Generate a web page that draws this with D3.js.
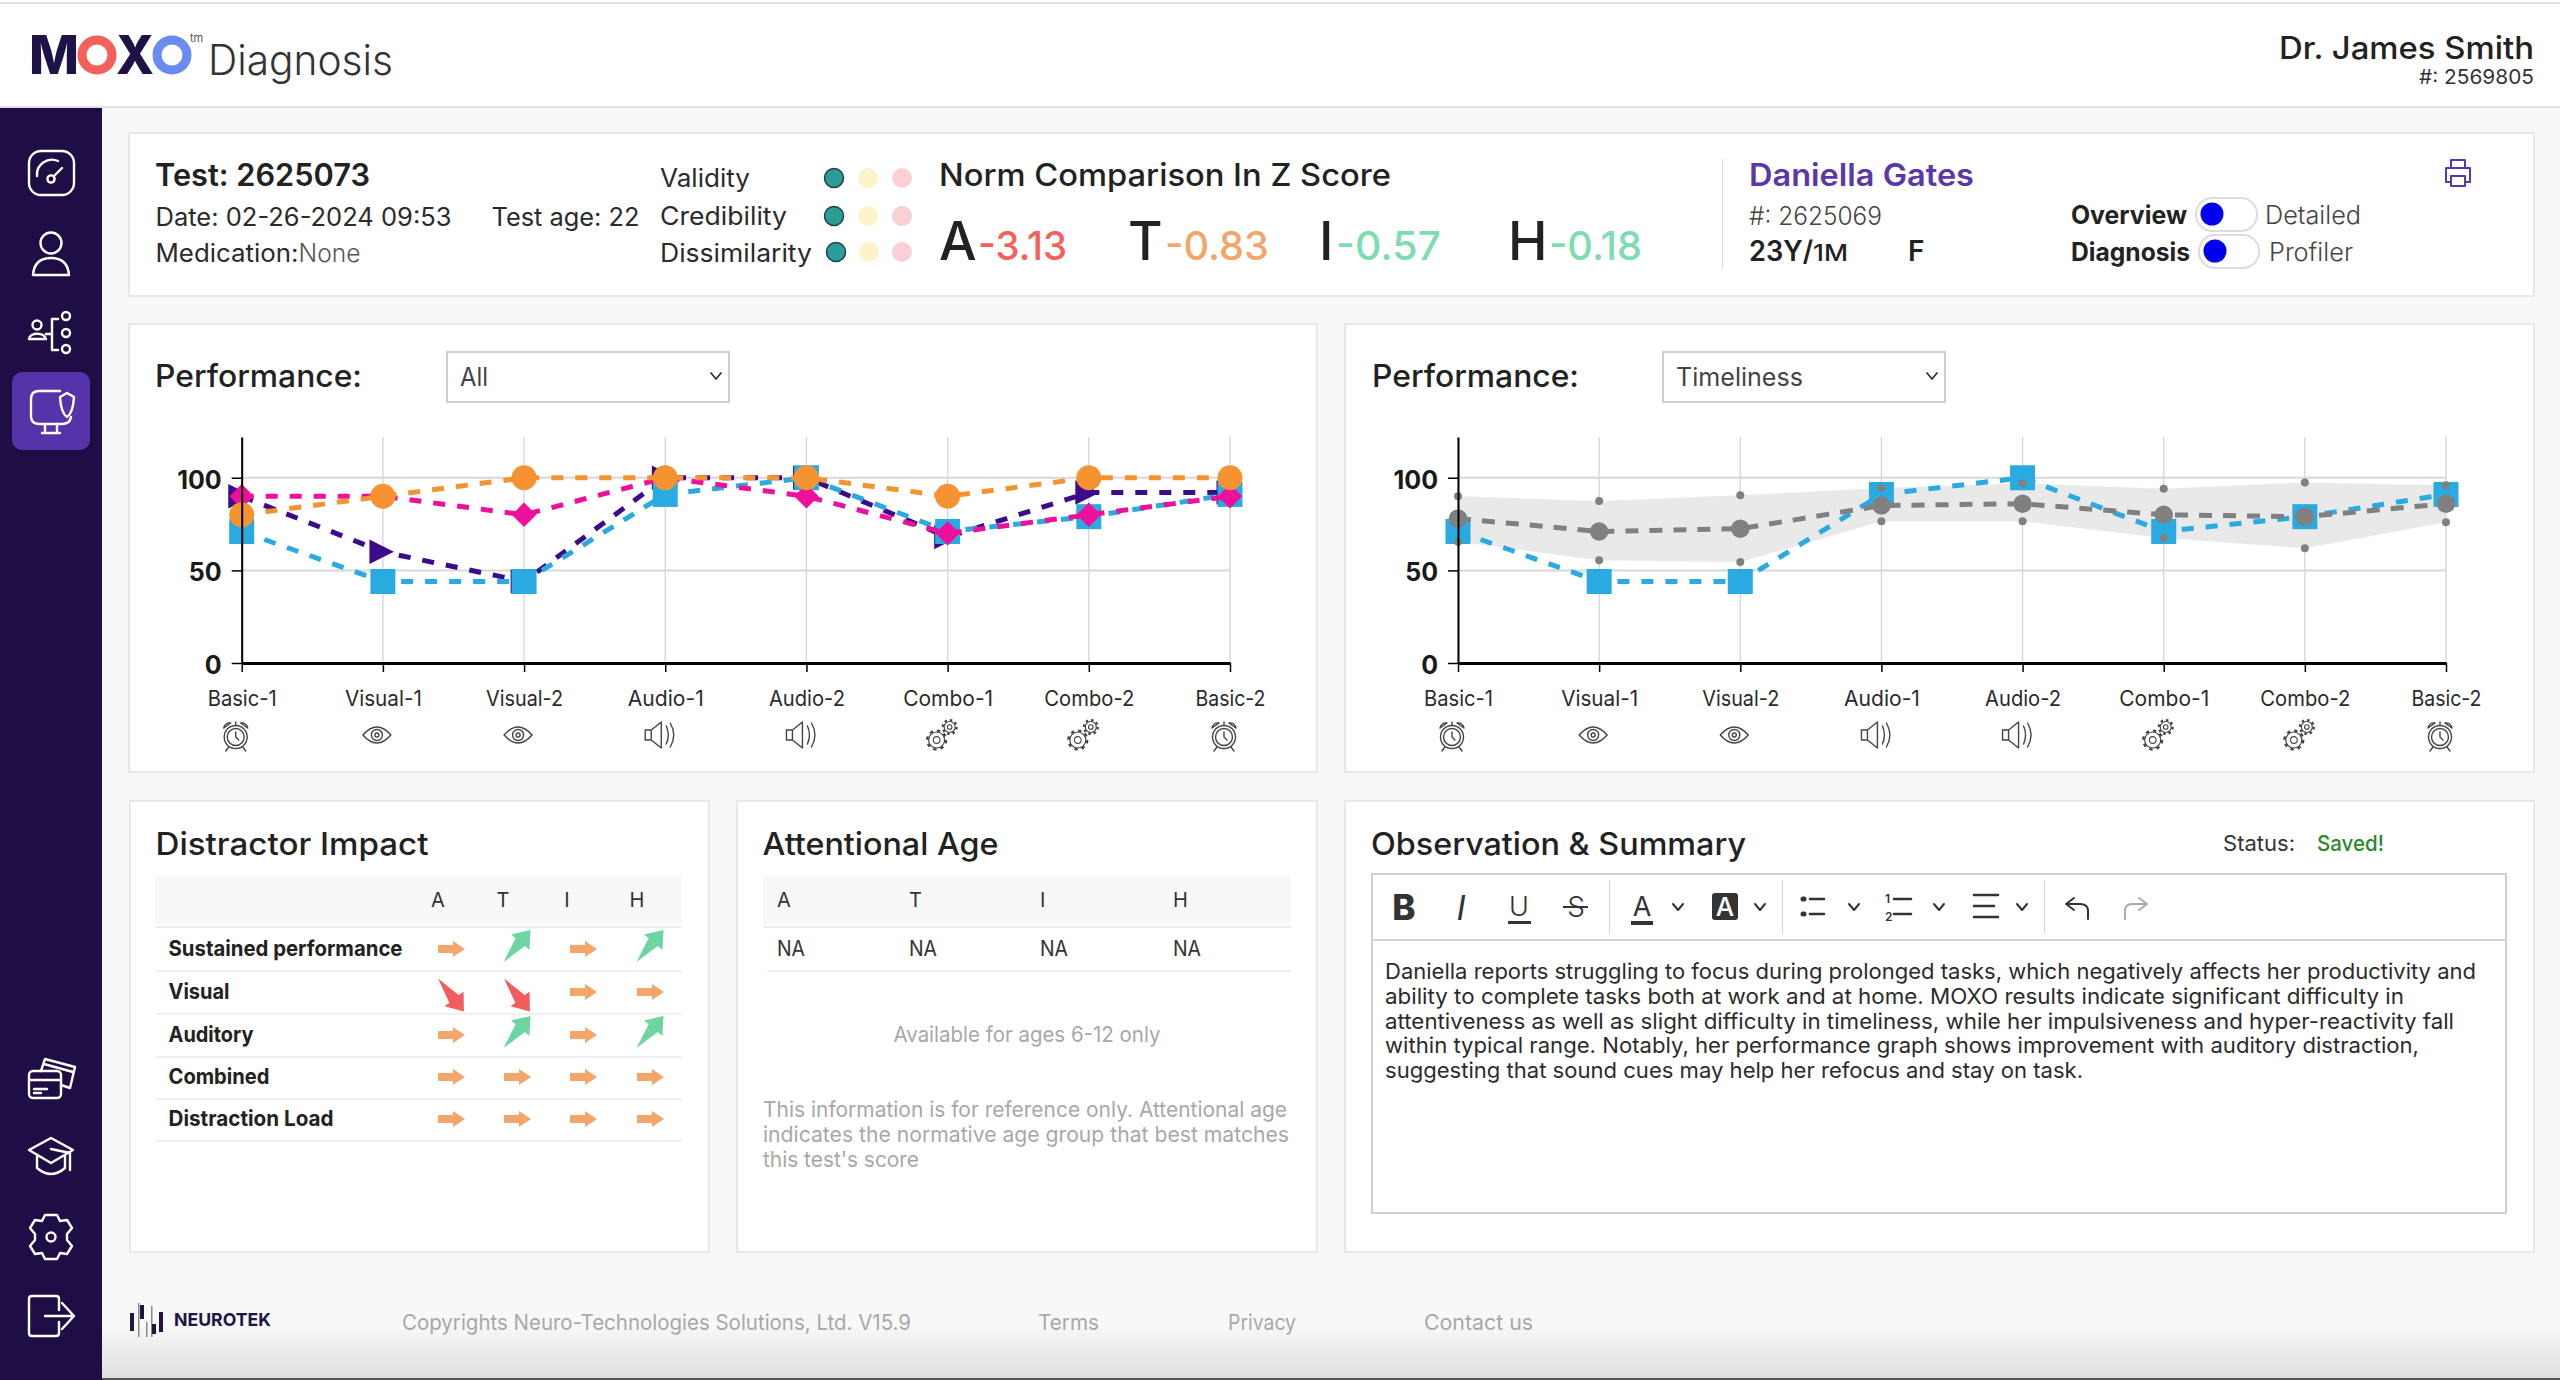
<!DOCTYPE html>
<html><head><meta charset="utf-8">
<script src="https://cdn.jsdelivr.net/npm/d3@7"></script>
<style>html,body{margin:0;padding:0;background:#f8f8f8;overflow:hidden}svg{display:block}text{font-family:Inter,"Noto Sans",sans-serif}</style>
</head><body><div id="app"></div>
<script>
// ---------- chart data ----------
const categories = ["Basic-1","Visual-1","Visual-2","Audio-1","Audio-2","Combo-1","Combo-2","Basic-2"];
const categoryIcons = ["clock","eye","eye","speaker","speaker","gears","gears","clock"];
const yTicks = [0,50,100];
const attention   = [71,44,44,91,100,71,79,91];
const timeliness  = [90,60,44,100,100,68,92,92];
const impulsive   = [90,90,80,100,90,70,80,90];
const hyper       = [80,90,100,100,100,90,100,100];
const timelinessDetail = [71,44,44,91,100,71,79,91];
const normMean  = [78,71,72.5,85,86,80,79,86];
const normUpper = [90,87.5,90.5,94.5,97,94,97.5,96];
const normLower = [65.5,55.5,54.5,76.5,76.5,67.5,62,76];
// ---------- page data ----------
const scoreLetters = ["A","T","I","H"];
const scoreValues = ["-3.13","-0.83","-0.57","-0.18"];
const qualityLabels = ["Validity","Credibility","Dissimilarity"];
const impactRows = ["Sustained performance","Visual","Auditory","Combined","Distraction Load"];
const impactCodes = [[0,1,0,1],[-1,-1,0,0],[0,1,0,1],[0,0,0,0],[0,0,0,0]];
const ageValues = ["NA","NA","NA","NA"];
const noteLines = ["This information is for reference only. Attentional age","indicates the normative age group that best matches","this test's score"];
const summaryLines = ["Daniella reports struggling to focus during prolonged tasks, which negatively affects her productivity and",
"ability to complete tasks both at work and at home. MOXO results indicate significant difficulty in",
"attentiveness as well as slight difficulty in timeliness, while her impulsiveness and hyper-reactivity fall",
"within typical range. Notably, her performance graph shows improvement with auditory distraction,",
"suggesting that sound cues may help her refocus and stay on task."];
const footerLinks = ["Terms","Privacy","Contact us"];

const svg = d3.select("#app").append("svg").attr("width",2560).attr("height",1380).attr("viewBox","0 0 2560 1380");
function T(x,y,s,o={},p=svg){
  const e=p.append("text").attr("x",x).attr("y",y).text(s)
    .attr("font-size",o.fs||24).attr("font-weight",o.wt||400).attr("fill",o.c||"#2b2b2b")
    .attr("text-anchor",o.a||"start");
  if(o.w) e.attr("textLength",o.w).attr("lengthAdjust","spacingAndGlyphs");
  if(o.it) e.attr("font-style","italic");
  return e;
}
function R(x,y,w,h,f,o={},p=svg){return p.append("rect").attr("x",x).attr("y",y).attr("width",w).attr("height",h).attr("fill",f).attr("rx",o.rx||0).attr("stroke",o.s||"none").attr("stroke-width",o.sw||0);}
function P(d,o={},p=svg){return p.append("path").attr("d",d).attr("fill",o.f||"none").attr("stroke",o.s||"none").attr("stroke-width",o.sw||0).attr("stroke-linecap","round").attr("stroke-linejoin","round").attr("transform",o.t||null);}
function C(x,y,r,o={},p=svg){return p.append("circle").attr("cx",x).attr("cy",y).attr("r",r).attr("fill",o.f||"none").attr("stroke",o.s||"none").attr("stroke-width",o.sw||0);}

// background + header
R(0,0,2560,1380,"#f8f8f8");
const defs=svg.append("defs");
const g=defs.append("linearGradient").attr("id","fade").attr("x1",0).attr("x2",0).attr("y1",0).attr("y2",1);
g.append("stop").attr("offset",0).attr("stop-color","#f8f8f8");
g.append("stop").attr("offset",1).attr("stop-color","#dedede");
R(102,1325,2458,55,"url(#fade)");
R(0,1378,2560,2,"#555");
R(0,0,2560,107,"#fff");
R(0,2,2560,2,"#e2e2e2");
R(0,106,2560,2,"#e0e0e0");

// logo
T(29,74,"M",{fs:54,wt:800,c:"#1e1246",w:50});
C(97,55,15,{s:"#f4605a",sw:9});
T(116,74,"X",{fs:54,wt:800,c:"#1e1246",w:38});
C(172,55,15,{s:"#6a8cf0",sw:9});
T(190,42,"tm",{fs:11,c:"#555"});
T(208,74.5,"Diagnosis",{fs:42,wt:300,c:"#333",w:185});
T(2534,59,"Dr. James Smith",{fs:31,wt:500,a:"end",w:255,c:"#222"});
T(2534,84,"#: 2569805",{fs:20,a:"end",w:115,c:"#333"});

// sidebar
R(0,108,102,1272,"#1f0e45");
R(12,372,78,78,"#5533a8",{rx:10});
const ic={s:"#fff",sw:2.4};
R(29,151,45,44,"none",{rx:12,s:"#fff",sw:2.4});
P("M37 176 A15 15 0 0 1 58 161",ic); C(51,179,3.6,ic); P("M54 176 L62 168",ic);
C(51,243,10.5,ic); P("M33 275 C34 262 42 258 51 258 C60 258 68 262 69 275 Z",ic);
C(37,325,4.5,ic); P("M29 339 C30 332 44 332 46 339 Z",ic); P("M46 334 H52 M52 319 V350 M52 319 H58 M52 350 H58",ic);
C(66,316,4,ic);C(66,333,4,ic);C(66,349,4,ic);
P("M60 391 H39 Q31 391 31 399 V416 Q31 424 39 424 H62 Q70 424 71 417",ic);
P("M45 424 V431 M57 424 V431 M42 433 H60",ic);
P("M60 397 L67 393 L74 397 Q73 413 67 417 Q61 413 60 397 Z",ic);
R(29,1071,32,27,"none",{rx:4,s:"#fff",sw:2.4}); P("M29 1080 H61 M34 1089 H47 M34 1093 H41",ic); P("M41 1071 L45 1059 L75 1067 L70 1088 L61 1085 M44 1064 L73 1072",ic);
P("M51 1138 L73 1150 L51 1163 L29 1150 Z",ic); P("M37 1156 V1168 Q51 1180 65 1168 V1156 M51 1149 L70 1153 V1170",ic);
P("M45 1215 h12 l3 6 l7 -1 l5 8 l-5 6 l0 6 l5 6 l-5 8 l-7 -1 l-3 6 h-12 l-3 -6 l-7 1 l-5 -8 l5 -6 l0 -6 l-5 -6 l5 -8 l7 1 Z",ic); C(51,1237,4.5,ic);
P("M59 1310 V1299 Q59 1296 56 1296 H32 Q29 1296 29 1299 V1333 Q29 1336 32 1336 H56 Q59 1336 59 1333 V1322 M45 1316 H74 M62 1303 L74 1316 L62 1329",ic);

// cards
function card(x,y,w,h){R(x,y,w,h,"#fff",{s:"#e8e8e8",sw:2});}
card(129,133,2405,163); card(129,324,1188,448); card(1345,324,1189,448);
card(130,801,579,451); card(737,801,580,451); card(1345,801,1189,451);

// summary card
T(155,186,"Test: 2625073",{fs:31,wt:600,w:215,c:"#222"});
T(155.5,225.5,"Date: 02-26-2024 09:53",{fs:25,w:296});
T(491.5,225.5,"Test age: 22",{fs:25,w:148});
T(155.5,262,"Medication:",{fs:25,w:143});
T(298.5,262,"None",{fs:25,wt:300,w:62,c:"#555"});
const qY=[187,225,262],dY=[178,216,252];
qualityLabels.forEach((q,i)=>{
  T(660,qY[i],q,{fs:25,w:[90,127,152][i]});
  const dx=i==2?2:0;
  C(834+dx,dY[i],9.5,{f:"#2a9d96",s:"#1f3f4f",sw:1.5});
  C(868+(i==2?1:0),dY[i],10,{f:"#fdf3c8"});
  C(902,dY[i],10,{f:"#fbd0d4"});
});
T(939,186,"Norm Comparison In Z Score",{fs:31,wt:500,w:452,c:"#222"});
const lx=[939,1128,1319,1508],vx=[978,1165,1336,1549],vw=[89,104,105,93],vc=["#f4605a","#f4a66a","#7ddcb0","#7ddcb0"];
scoreLetters.forEach((l,i)=>{
  T(lx[i],259.5,l,{fs:53,wt:500,c:"#222"});
  T(vx[i],259.5,scoreValues[i],{fs:40,wt:500,c:vc[i],w:vw[i]});
});
R(1722,159,1,110,"#ddd");
T(1749,186,"Daniella Gates",{fs:31,wt:600,c:"#5a38a8",w:225});
T(1749,225,"#: 2625069",{fs:25,wt:300,c:"#444",w:133});
T(1749,261,"23Y/",{fs:28,wt:600,c:"#222",w:64});
T(1813,261,"1M",{fs:23,wt:500,c:"#222",w:35});
T(1908,261,"F",{fs:28,wt:600,c:"#222"});
T(2071,224,"Overview",{fs:25,wt:700,c:"#222",w:116});
T(2071,261,"Diagnosis",{fs:25,wt:700,c:"#222",w:119});
T(2265,224,"Detailed",{fs:25,wt:300,c:"#444",w:96});
T(2269,261,"Profiler",{fs:25,wt:300,c:"#444",w:84});
R(2196,198,61,33,"#fff",{rx:16,s:"#ddd",sw:2}); C(2212,214,11.5,{f:"#0000ee"});
R(2199,235,60,33,"#fff",{rx:16,s:"#ddd",sw:2}); C(2215,251,11.5,{f:"#0000ee"});
const pr={s:"#5a38a8",sw:2};
P("M2451 168 V160 H2465 V168 M2451 182 H2446 V168 H2470 V182 H2465 M2451 176 H2465 V186 H2451 Z",pr);

// performance charts
const triRight={draw(c,s){const r=Math.sqrt(s)/2;c.moveTo(-1.1*r,-r);c.lineTo(0.9*r,0);c.lineTo(-1.1*r,r);c.closePath();}};
function icon(p,name){
  const o={s:"#444",sw:1.4}, G=p;
  if(name=="clock"){C(0,2,11.5,o,G);C(0,2,8.5,o,G);P("M0 -3 V2 L3 5",o,G);P("M-12 -7 A6 6 0 0 1 -5 -12 Z M12 -7 A6 6 0 0 0 5 -12 Z M-7 12 L-10 16 M7 12 L10 16 M0 -10 V-13",o,G);}
  if(name=="eye"){P("M-14 0 Q0 -16 14 0 Q0 16 -14 0 Z",o,G);C(0,0,5.5,o,G);C(0,0,2,o,G);}
  if(name=="speaker"){P("M-14 -5 H-8 L2 -13 V13 L-8 5 H-14 Z M-8 -5 V5",o,G);P("M7 -9 Q11 0 7 9 M11 -12 Q18 0 11 12",o,G);}
  if(name=="gears"){
    [[-5,5,8],[8,-8,5.5]].forEach(([x,y,r])=>{
      C(x,y,r,{s:"#444",sw:1.2},G);C(x,y,r*0.42,{s:"#444",sw:1.1},G);
      const R2=r+1.4, c=2*Math.PI*R2/8;
      p.append("circle").attr("cx",x).attr("cy",y).attr("r",R2).attr("fill","none").attr("stroke","#444").attr("stroke-width",2.4).attr("stroke-dasharray",`${c*0.45} ${c*0.55}`);
    });
  }
}
function chart(x0,x1,series,band){
  const x=d3.scalePoint().domain(categories).range([x0,x1]);
  const y=d3.scaleLinear().domain([0,122]).range([663,437]);
  const G=svg.append("g");
  G.selectAll("line.v").data(categories).join("line").attr("class","v").attr("x1",d=>x(d)).attr("x2",d=>x(d)).attr("y1",y(122)).attr("y2",y(0)).attr("stroke","#d8d8d8").attr("stroke-width",1.4);
  G.selectAll("line.h").data([50,100]).join("line").attr("class","h").attr("x1",x0).attr("x2",x1).attr("y1",d=>y(d)).attr("y2",d=>y(d)).attr("stroke","#d8d8d8").attr("stroke-width",2);
  if(band){
    const area=d3.area().x((d,i)=>x(categories[i])).y0((d,i)=>y(band.lo[i])).y1(d=>y(d));
    G.append("path").attr("d",area(band.hi)).attr("fill","#e8e8e8").attr("fill-opacity",.95);
  }
  const line=d3.line().x((d,i)=>x(categories[i])).y(d=>y(d));
  function drawSeries(s){
    G.append("path").attr("d",line(s.v)).attr("fill","none").attr("stroke",s.c).attr("stroke-width",s.lw||5).attr("stroke-dasharray",s.dash||"12 12");
    G.selectAll(null).data(s.v).join("path").attr("d",d3.symbol().type(s.t).size(s.sz)()).attr("fill",s.c)
      .attr("transform",(d,i)=>`translate(${x(categories[i])},${y(d)})`);
  }
  series.forEach(drawSeries);
  if(band){
    ["lo","hi"].forEach(k=>G.selectAll(null).data(band[k]).join("circle").attr("cx",(d,i)=>x(categories[i])).attr("cy",d=>y(d)).attr("r",4).attr("fill","#808080"));
    drawSeries({v:band.mean,c:"#808080",t:d3.symbolCircle,sz:270,lw:5,dash:"13 11"});
  }
  const ax=G.append("g").attr("transform",`translate(0,${y(0)})`).call(d3.axisBottom(x).tickSize(9).tickSizeOuter(0).tickPadding(19));
  ax.select(".domain").attr("stroke","#000").attr("stroke-width",3);
  ax.selectAll(".tick line").attr("stroke","#000").attr("stroke-width",1.5);
  ax.selectAll(".tick text").attr("font-family","Inter").attr("font-size",21.5).attr("fill","#2b2b2b")
    .attr("textLength",(d,i)=>[69,77,77,76,76,90,90,70][i]).attr("lengthAdjust","spacingAndGlyphs");
  const ay=G.append("g").attr("transform",`translate(${x0},0)`).call(d3.axisLeft(y).tickValues(yTicks).tickSize(10).tickSizeOuter(0).tickPadding(10));
  ay.select(".domain").attr("stroke","#000").attr("stroke-width",2);
  ay.selectAll(".tick line").attr("stroke","#000").attr("stroke-width",1.5);
  ay.selectAll(".tick text").attr("font-family","Inter").attr("font-size",25).attr("font-weight",700).attr("fill","#1a1a1a").attr("dy","0.42em");
  categories.forEach((c,i)=>{
    const ig=G.append("g").attr("transform",`translate(${x(c)-6},735)`);
    icon(ig,categoryIcons[i]);
  });
}
chart(241.7,1230,[
  {v:timeliness,c:"#3c0a8c",t:triRight,sz:600},
  {v:attention,c:"#29abe2",t:d3.symbolSquare,sz:625},
  {v:impulsive,c:"#ee0f9b",t:d3.symbolDiamond2,sz:380},
  {v:hyper,c:"#f59331",t:d3.symbolCircle,sz:491}
]);
chart(1458,2446,[{v:timelinessDetail,c:"#29abe2",t:d3.symbolSquare,sz:625}],{lo:normLower,hi:normUpper,mean:normMean});

function selectBox(lx,sx,label,lw){
  T(lx,386.5,"Performance:",{fs:31,wt:500,c:"#222",w:207});
  R(sx,352,282,50,"#fff",{s:"#cfcfcf",sw:2});
  T(sx+13,386,label,{fs:25,c:"#444",w:lw});
  P(`M${sx+264} 373 L${sx+269} 379 L${sx+274} 373`,{s:"#333",sw:1.8});
}
selectBox(155,447,"All",28);
selectBox(1372,1663,"Timeliness",127);

// distractor impact
T(155.5,854.5,"Distractor Impact",{fs:31,wt:500,c:"#222",w:273});
R(155,875,527,50,"#f8f8f8"); R(156,926,526,2,"#ececec");
const iCols=[451,517,583,650],iHead=[438,503,567,637],iY=[949,992,1035,1077,1119],iLine=[970,1013,1056,1098,1140];
scoreLetters.forEach((l,i)=>T(iHead[i],907,l,{fs:20,a:"middle",c:"#333"}));
const iW=[234,61,85,101,165];
const flatArrow="M-13 -4 H2 V-8 L14 0 L2 8 V4 H-13 Z";
const diagArrow="M-21 0 L5 -6 V-12 L21 0 L5 12 V6 Z";
impactRows.forEach((r,i)=>{
  T(168.5,iY[i]+7,r,{fs:21.5,wt:700,c:"#222",w:iW[i]});
  R(156,iLine[i],526,2,"#f0f0f0");
  impactCodes[i].forEach((v,j)=>{
    if(v===0) P(flatArrow,{f:"#f4a66a",t:`translate(${iCols[j]},${iY[i]})`});
    if(v===1) P(diagArrow,{f:"#6dd5a0",t:`translate(${iCols[j]},${iY[i]-3}) rotate(-50)`});
    if(v===-1) P(diagArrow,{f:"#f25c5c",t:`translate(${iCols[j]},${iY[i]+3}) rotate(52)`});
  });
});

// attentional age
T(762.5,854.5,"Attentional Age",{fs:31,wt:500,c:"#222",w:236});
R(763,875,528,50,"#f8f8f8"); R(763,926,528,2,"#ececec"); R(767,970,524,2,"#f0f0f0");
const aX=[777,909,1040,1173];
scoreLetters.forEach((l,i)=>{T(aX[i],907,l,{fs:20,c:"#333"});T(aX[i],956,ageValues[i],{fs:21,c:"#333",w:28});});
T(1027,1042,"Available for ages 6-12 only",{fs:21.5,a:"middle",c:"#a8a8a8",w:267});
noteLines.forEach((l,i)=>T(763,[1117,1142,1167][i],l,{fs:21.5,c:"#a8a8a8",w:[524,526,156][i]}));

// observation
T(1371,854.5,"Observation & Summary",{fs:31,wt:500,c:"#222",w:375});
T(2223,851,"Status:",{fs:22,c:"#333",w:72});
T(2317,851,"Saved!",{fs:22,wt:500,c:"#2a8a2a",w:67});
R(1372,874,1134,339,"#fff",{s:"#d0d0d0",sw:2});
R(1372,939,1134,2,"#d4d4d4");
[1609,1782,2044].forEach(x=>R(x,880,1,54,"#d8d8d8"));
T(1404,920,"B",{fs:35,wt:800,a:"middle",c:"#333"});
T(1461,920,"I",{fs:34,wt:400,it:1,a:"middle",c:"#333"});
T(1519,916,"U",{fs:27,wt:300,a:"middle",c:"#333"}); R(1508,921,23,3,"#333");
T(1576,917,"S",{fs:28,wt:300,a:"middle",c:"#333"}); R(1563,906,25,2,"#333");
T(1642,916,"A",{fs:27,wt:400,a:"middle",c:"#333"}); R(1631,921,22,4,"#333");
R(1712,893,26,27,"#333",{rx:3}); T(1725,916,"A",{fs:26,wt:500,a:"middle",c:"#fff"});
const tb={s:"#333",sw:2};
[1678,1760,1854,1939,2022].forEach(x=>P(`M${x-5} 904 L${x} 910 L${x+5} 904`,tb));
P("M1803 899 h1 M1803 914 h1",{s:"#333",sw:5}); P("M1810 899 H1824 M1810 914 H1824",{s:"#333",sw:2.6});
T(1885,903,"1",{fs:12,wt:600,c:"#333"}); T(1885,921,"2",{fs:12,wt:600,c:"#333"}); P("M1894 899 H1911 M1894 914 H1911",{s:"#333",sw:2.6});
P("M1974 895 H1998 M1974 906 H1994 M1974 917 H1998",{s:"#333",sw:2.6});
P("M2074 898 L2066 904 L2074 910 M2066 904 H2080 Q2088 904 2088 911 V919",{s:"#333",sw:2});
P("M2139 898 L2147 904 L2139 910 M2147 904 H2132 Q2125 904 2125 911 V919",{s:"#aaa",sw:2});
const sumW=[1091,1019,1069,1034,698],sumY=[979,1004,1029,1053,1078];
summaryLines.forEach((l,i)=>T(1385,sumY[i],l,{fs:21.5,c:"#2b2b2b",w:sumW[i]}));

// footer
[[130,1313,4,18,"#1f1446"],[138,1303,1.5,34,"#888"],[140,1305,4,14,"#1f1446"],[146,1322,1.5,15,"#888"],[151,1306,1.5,31,"#888"],[152,1324,4,10,"#1f1446"],[159,1312,4,20,"#1f1446"]].forEach(b=>R(b[0],b[1],b[2],b[3],b[4]));
T(174,1326,"NEUROTEK",{fs:18,wt:700,c:"#1f1446",w:97});
T(402,1330,"Copyrights Neuro-Technologies Solutions, Ltd. V15.9",{fs:21.5,c:"#a8a8a8",w:509});
const fX=[1038,1228,1424],fW=[61,68,109];
footerLinks.forEach((l,i)=>T(fX[i],1330,l,{fs:21.5,c:"#a8a8a8",w:fW[i]}));
</script></body></html>
